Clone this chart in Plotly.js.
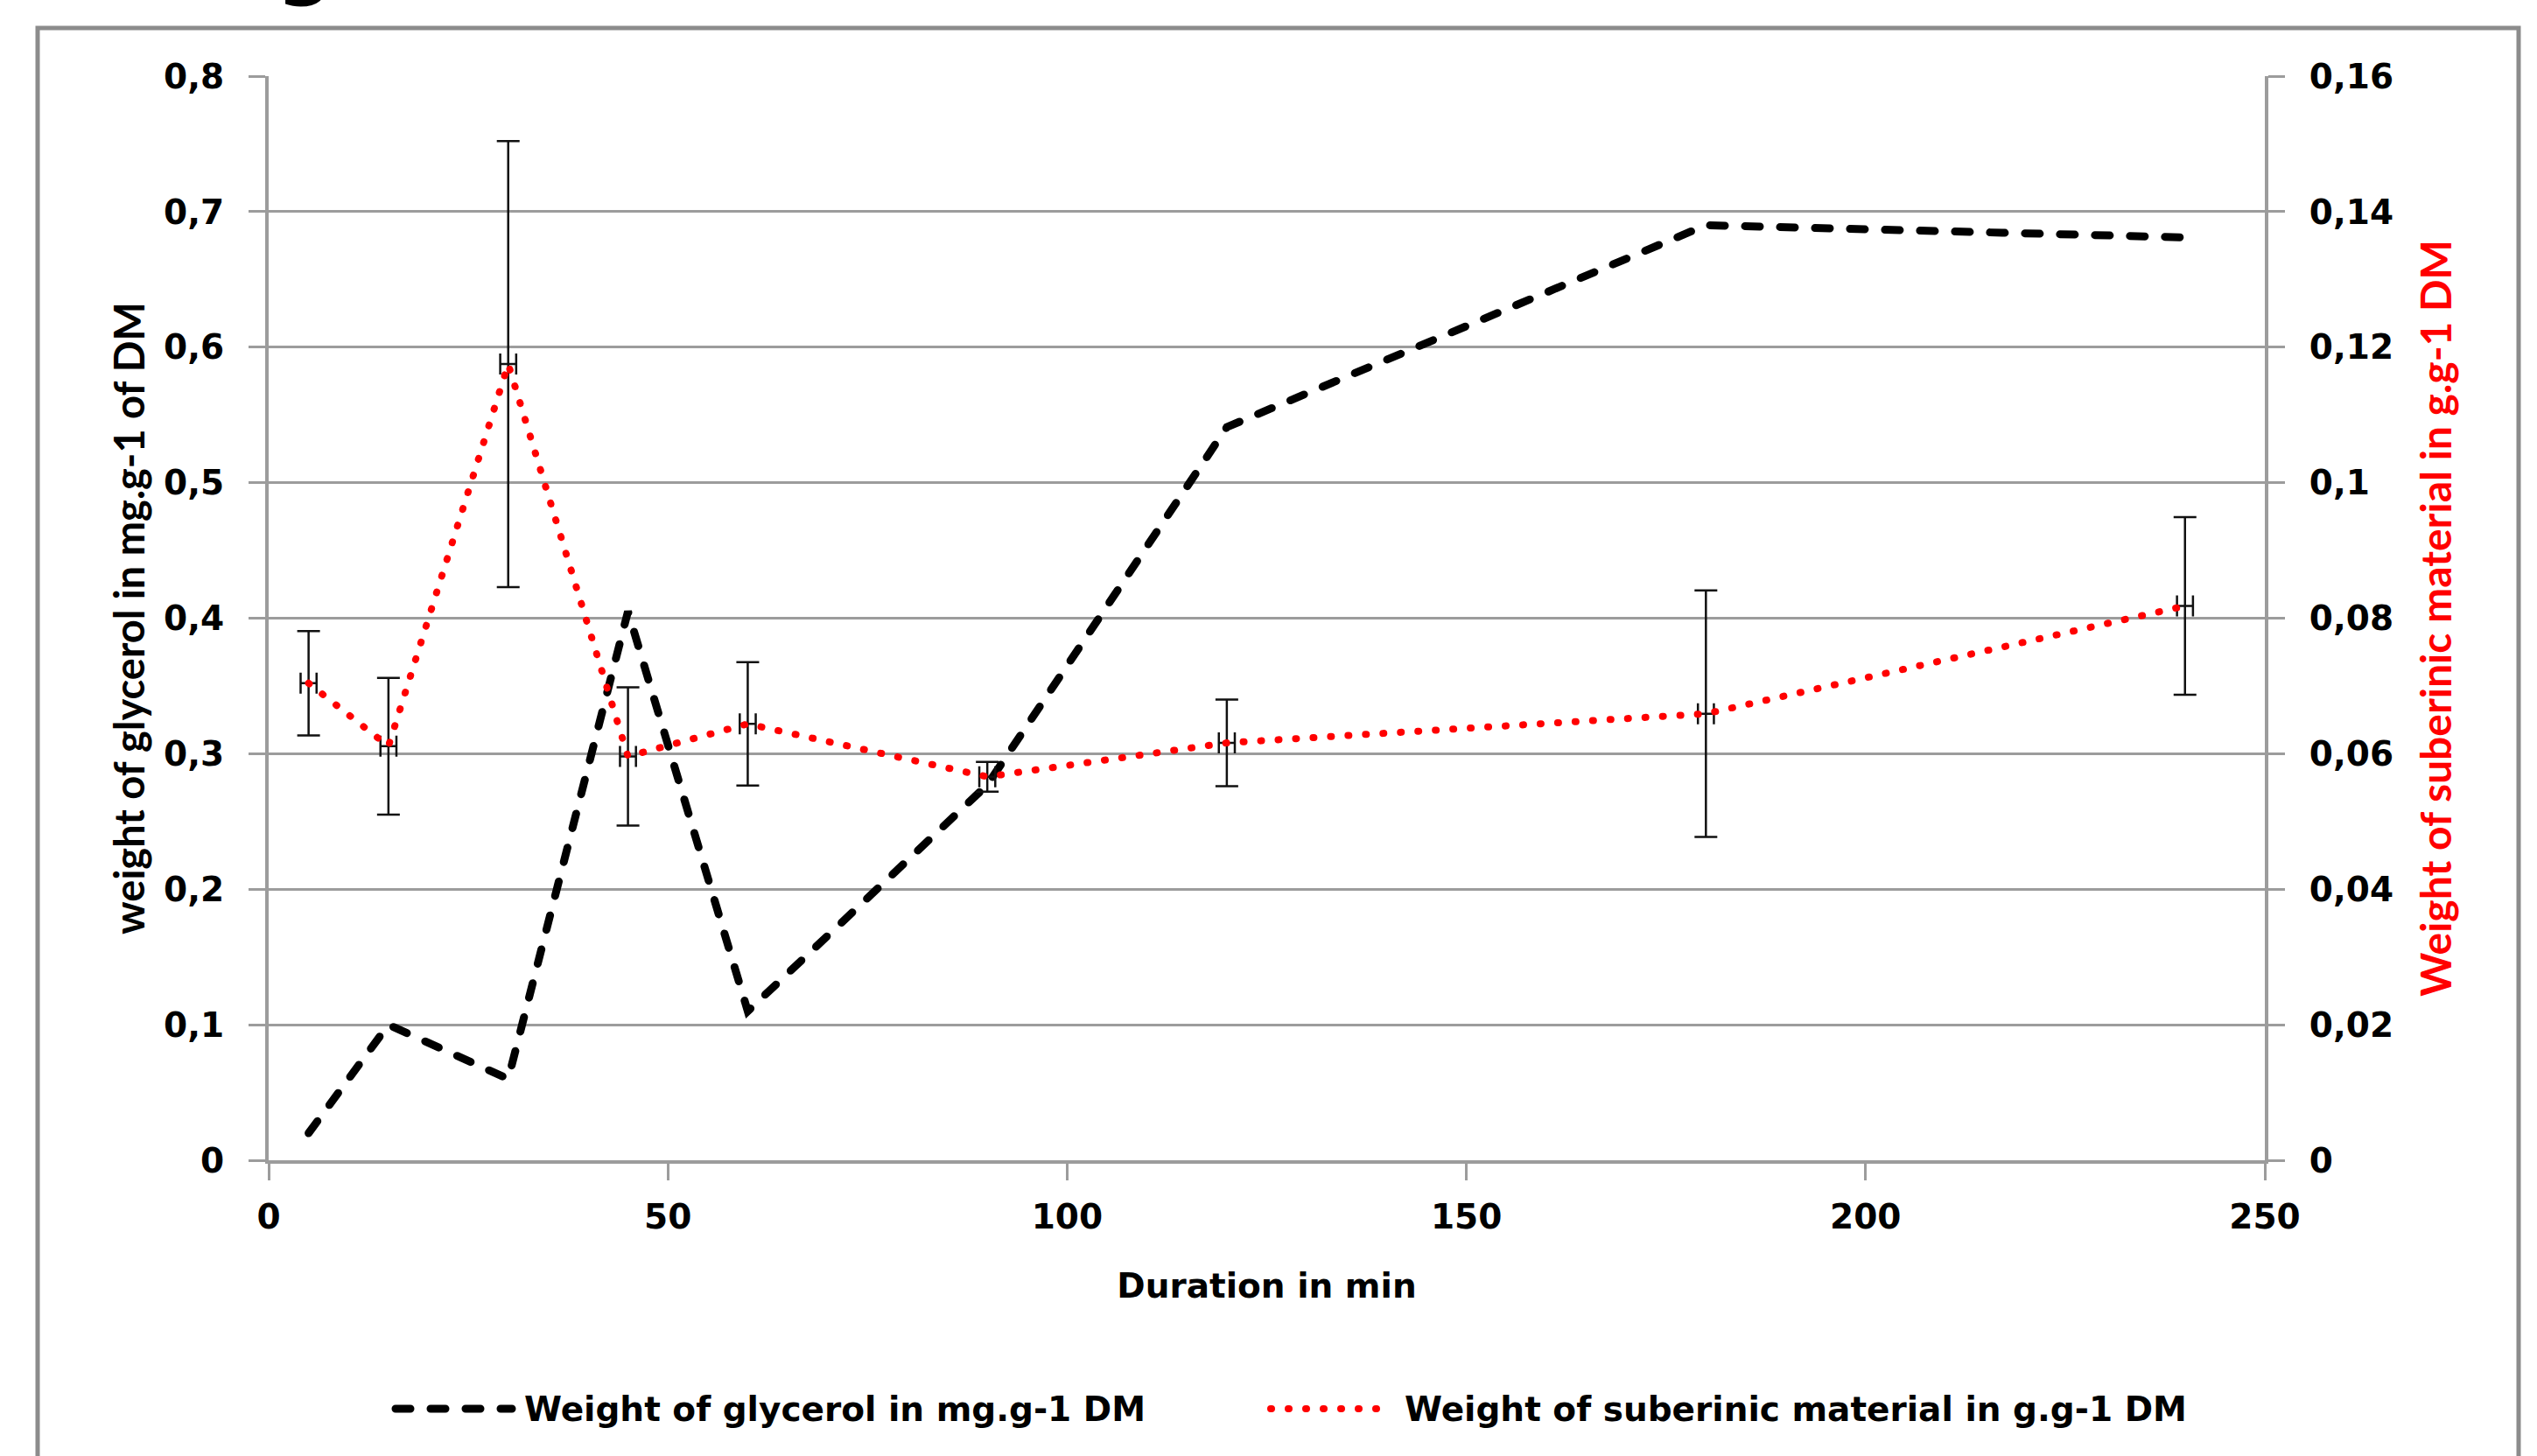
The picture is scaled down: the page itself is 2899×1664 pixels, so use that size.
<!DOCTYPE html>
<html><head><meta charset="utf-8">
<script src="https://cdn.plot.ly/plotly-3.0.1.min.js"></script>
<style>
html,body{margin:0;padding:0;background:#fff;}
#chart{width:2899px;height:1664px;}
.scatterlayer .js-line, .shapelayer path.legsample { stroke-linecap: round; }
</style></head><body><div id="chart"></div>
<script>
// ---- data ----
const durations = [5, 15, 30, 45, 60, 90, 120, 180, 240];
const glycerol = [0.02, 0.10, 0.06, 0.405, 0.11, 0.277, 0.541, 0.690, 0.681];
const suberinic = [0.0704, 0.0611, 0.1175, 0.0596, 0.0644, 0.0566, 0.0616, 0.0659, 0.0818];
const suberinicErr = [0.0077, 0.0101, 0.0329, 0.0102, 0.0091, 0.0022, 0.0064, 0.0182, 0.0131];
const durationErr = [1, 1, 1, 1, 1, 1, 1, 1, 1];
const seriesNames = ['Weight of glycerol in mg.g-1 DM', 'Weight of suberinic material in g.g-1 DM'];
const xTickVals = [0, 50, 100, 150, 200, 250];
const xTickText = ['0', '50', '100', '150', '200', '250'];
const yLeftTickVals = [0, 0.1, 0.2, 0.3, 0.4, 0.5, 0.6, 0.7, 0.8];
const yLeftTickText = ['0', '0,1', '0,2', '0,3', '0,4', '0,5', '0,6', '0,7', '0,8'];
const yRightTickVals = [0, 0.02, 0.04, 0.06, 0.08, 0.1, 0.12, 0.14, 0.16];
const yRightTickText = ['0', '0,02', '0,04', '0,06', '0,08', '0,1', '0,12', '0,14', '0,16'];
const xTitle = 'Duration in min';
const yLeftTitle = 'weight of glycerol in mg.g-1 of DM';
const yRightTitle = 'Weight of suberinic material in g.g-1 DM';

// ---- layout helpers ----
const W = 2899, H = 1664;
const M = {l: 307, r: 311, t: 87, b: 338};
const PW = W - M.l - M.r, PH = H - M.t - M.b;
const px = x => (x - M.l) / PW;            // pixel -> paper x
const py = y => (H - M.b - y) / PH;        // pixel -> paper y

const gridCol = '#9c9c9c';
const tickFont = {family: 'DejaVu Sans', size: 39, color: '#000', weight: 'bold'};
const titleFontFamily = 'Lato';

const traces = [
  {
    x: durations, y: glycerol, name: seriesNames[0], type: 'scatter', mode: 'lines',
    xaxis: 'x', yaxis: 'y', showlegend: false,
    line: {color: '#000000', width: 9, dash: '17px,23px'}
  },
  {
    x: durations, y: suberinic, name: seriesNames[1], type: 'scatter', mode: 'lines',
    xaxis: 'x', yaxis: 'y2', showlegend: false,
    line: {color: '#ff0000', width: 8, dash: '1px,19px'},
    error_y: {type: 'data', array: suberinicErr, visible: true, color: '#111', thickness: 2.5, width: 13},
    error_x: {type: 'data', array: durationErr, visible: true, color: '#111', thickness: 2.5, width: 12}
  }
];

const layout = {
  width: W, height: H,
  margin: M,
  paper_bgcolor: '#ffffff', plot_bgcolor: '#ffffff',
  showlegend: false,
  xaxis: {
    range: [0, 250], tickvals: xTickVals, ticktext: xTickText,
    showgrid: false, zeroline: false, showline: true, linecolor: gridCol, linewidth: 4,
    ticks: 'outside', ticklen: 19, tickwidth: 3, tickcolor: gridCol,
    tickfont: tickFont, automargin: false, ticklabelstandoff: 8,
    title: {text: xTitle, font: {family: 'DejaVu Sans', size: 39, color: '#000', weight: 'bold'}, standoff: 45}
  },
  yaxis: {
    range: [0, 0.8], tickvals: yLeftTickVals, ticktext: yLeftTickText,
    showgrid: true, gridcolor: gridCol, gridwidth: 3, zeroline: false,
    showline: true, linecolor: gridCol, linewidth: 4,
    ticks: 'outside', ticklen: 19, tickwidth: 3, tickcolor: gridCol,
    tickfont: tickFont, automargin: false, ticklabelstandoff: 20,
    title: {text: yLeftTitle, font: {family: titleFontFamily, size: 47, color: '#000', weight: 'bold'}, standoff: 8}
  },
  yaxis2: {
    range: [0, 0.16], tickvals: yRightTickVals, ticktext: yRightTickText,
    overlaying: 'y', side: 'right', showgrid: false, zeroline: false,
    showline: true, linecolor: gridCol, linewidth: 4,
    ticks: 'outside', ticklen: 19, tickwidth: 3, tickcolor: gridCol,
    tickfont: tickFont, automargin: false, ticklabelstandoff: 20,
    title: {text: yRightTitle, font: {family: titleFontFamily, size: 48, color: '#ff0000', weight: 'bold'}, standoff: 34}
  },
  shapes: [
    // outer chart-area border
    {type: 'rect', xref: 'paper', yref: 'paper', x0: px(43), x1: px(2878), y0: py(1720), y1: py(32),
     line: {color: '#8c8c8c', width: 5}, fillcolor: 'rgba(0,0,0,0)', layer: 'below'},
    // legend samples
    {type: 'line', xref: 'paper', yref: 'paper', x0: px(452), x1: px(585), y0: py(1610), y1: py(1610),
     line: {color: '#000000', width: 9, dash: '17px,23px'}, name: 'legsample'},
    {type: 'line', xref: 'paper', yref: 'paper', x0: px(1452), x1: px(1585), y0: py(1610), y1: py(1610),
     line: {color: '#ff0000', width: 8, dash: '1px,19px'}, name: 'legsample'}
  ],
  annotations: [
    {xref: 'paper', yref: 'paper', x: px(597), y: py(1610), xanchor: 'left', yanchor: 'middle',
     text: seriesNames[0], showarrow: false,
     font: {family: 'DejaVu Sans', size: 39, color: '#000', weight: 'bold'}},
    {xref: 'paper', yref: 'paper', x: px(1603), y: py(1610), xanchor: 'left', yanchor: 'middle',
     text: seriesNames[1], showarrow: false,
     font: {family: 'DejaVu Sans', size: 39, color: '#000', weight: 'bold'}},
    // cut-off fragment of a heading above the chart (as in the reference)
    {xref: 'paper', yref: 'paper', x: px(348), y: py(11), xanchor: 'center', yanchor: 'bottom',
     text: 'g', showarrow: false,
     font: {family: 'DejaVu Sans', size: 90, color: '#000', weight: 'bold'}}
  ]
};

Plotly.newPlot('chart', traces, layout, {staticPlot: true, displayModeBar: false}).then(() => {
  document.querySelectorAll('.shapelayer path').forEach(p => {
    const d = p.getAttribute('style') || '';
    if (d.indexOf('stroke-dasharray') >= 0) p.classList.add('legsample');
  });
});
</script></body></html>
